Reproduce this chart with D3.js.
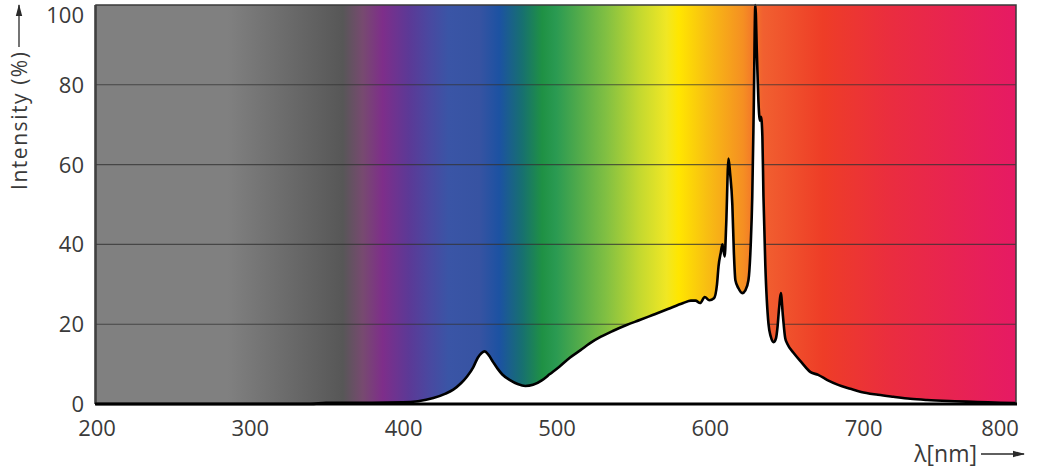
<!DOCTYPE html>
<html>
<head>
<meta charset="utf-8">
<script src="https://cdn.jsdelivr.net/npm/d3@7/dist/d3.min.js"></script>
<style>
  html, body { margin: 0; padding: 0; background: #ffffff; }
  svg { display: block; }
  text { font-family: "Open Sans", "Noto Sans", sans-serif; fill: #3a3a3a; }
</style>
</head>
<body>
<svg id="chart" width="1045" height="469"></svg>
<script>
// ---- data ----
const wavelengths = [200, 300, 340, 350, 380, 400, 410, 420, 428, 433, 438, 442, 446, 449, 451.5, 453.5, 456, 459, 462, 465, 470, 475, 480, 485, 491, 496, 502, 509, 516, 522, 529, 537, 546, 555, 563, 573, 583, 588, 591, 594, 597, 600, 603, 605, 606, 607.5, 608.5, 610, 611, 612.5, 613.5, 615, 616, 617, 619, 621.5, 623.5, 625.5, 627, 628, 629, 630, 631, 632, 633, 633.7, 634.6, 635.3, 636.5, 638.6, 640, 642, 643.5, 644.4, 645.5, 646.6, 648, 649.5, 651, 655, 660, 666, 671, 677, 684, 692, 699, 710, 720, 731, 742, 760, 775, 790, 800];
const intensity   = [0, 0, 0, 0.3, 0.3, 0.4, 0.7, 1.5, 2.6, 3.6, 5.2, 6.9, 9.2, 11.6, 12.8, 13.2, 12.3, 10.5, 8.8, 7.4, 6.0, 5.0, 4.5, 4.8, 6.0, 7.5, 9.3, 11.6, 13.5, 15.2, 16.8, 18.3, 19.8, 21.1, 22.3, 23.8, 25.3, 25.9, 25.9, 25.3, 26.8, 26.0, 26.5, 30, 34.5, 38, 40, 37, 45, 61.5, 58, 50, 38, 31, 29, 27.8, 28.5, 31, 40, 52, 75, 100, 88, 76, 71, 72, 67, 52, 35, 20, 17, 15.5, 16.5, 19, 24, 27.8, 22, 16.5, 15, 12.8, 10.5, 8.0, 7.3, 6, 4.8, 3.8, 3.0, 2.3, 1.8, 1.3, 1.0, 0.7, 0.5, 0.3, 0.2];
const xTicks = [200, 300, 400, 500, 600, 700, 800];
const yTicks = [0, 20, 40, 60, 80, 100];
const gridValues = [20, 40, 60, 80];
const yTitle = "Intensity (%)";
const xTitle = "λ[nm]";

// background spectrum colour stops (wavelength, colour)
const stopWavelengths = [200, 286, 361, 374, 387, 404, 417, 430, 450, 463, 478, 491, 500, 533, 554, 572, 580, 598, 622, 635, 674, 718, 800];
const stopColors = ["#808080", "#808080", "#575757", "#774a70", "#7e2e8a", "#5c3996", "#4a48a0", "#3a55a6", "#3753a2", "#1c52a2", "#177070", "#1f9144", "#2a9a52", "#82c042", "#c2d830", "#f0e724", "#ffe600", "#f8bf12", "#f58f22", "#f16030", "#ee3d27", "#ea2d3f", "#e61a64"];

// ---- layout ----
const svg = d3.select("#chart");
const L = 96, R = 1016, T = 5, B = 404;

const x = d3.scaleLinear().domain([200, 800]).range([L, R]);
const y = d3.scaleLinear().domain([0, 100]).range([B, T]);

const defs = svg.append("defs");
const grad = defs.append("linearGradient")
  .attr("id", "spec")
  .attr("gradientUnits", "userSpaceOnUse")
  .attr("x1", x(200)).attr("x2", x(800)).attr("y1", 0).attr("y2", 0);
grad.selectAll("stop")
  .data(stopWavelengths.map((w, i) => ({ w, c: stopColors[i] })))
  .join("stop")
  .attr("offset", d => (d.w - 200) / 600)
  .attr("stop-color", d => d.c);

defs.append("marker")
  .attr("id", "arrow")
  .attr("viewBox", "0 0 12 8")
  .attr("refX", 11).attr("refY", 4)
  .attr("markerWidth", 12).attr("markerHeight", 8)
  .attr("markerUnits", "userSpaceOnUse")
  .attr("orient", "auto")
  .append("path").attr("d", "M0,0.8 L12,4 L0,7.2 Z").attr("fill", "#2a2a2a");

// background
svg.append("rect")
  .attr("x", x(200)).attr("y", y(100))
  .attr("width", x(800) - x(200)).attr("height", y(0) - y(100))
  .attr("fill", "url(#spec)");

// gridlines
svg.append("g").selectAll("line")
  .data(gridValues).join("line")
  .attr("x1", x(200)).attr("x2", x(800))
  .attr("y1", d => y(d)).attr("y2", d => y(d))
  .attr("stroke", "#333").attr("stroke-opacity", 0.75).attr("stroke-width", 1.1);

// spectrum
const pts = wavelengths.map((w, i) => [w, intensity[i]]);
const area = d3.area().x(d => x(d[0])).y0(y(0)).y1(d => y(d[1])).curve(d3.curveMonotoneX);
const line = d3.line().x(d => x(d[0])).y(d => y(d[1])).curve(d3.curveMonotoneX);

svg.append("path").datum(pts).attr("d", area).attr("fill", "#ffffff");
svg.append("path").datum(pts).attr("d", line)
  .attr("fill", "none").attr("stroke", "#000").attr("stroke-width", 2.6)
  .attr("stroke-linejoin", "round");

// frame
svg.append("rect")
  .attr("x", x(200)).attr("y", y(100))
  .attr("width", x(800) - x(200)).attr("height", y(0) - y(100))
  .attr("fill", "none").attr("stroke", "#3a3a3a").attr("stroke-width", 1.5);
svg.append("line")
  .attr("x1", x(200) - 1).attr("x2", x(200) - 1).attr("y1", y(100)).attr("y2", y(0))
  .attr("stroke", "#333").attr("stroke-width", 1.5);
svg.append("line")
  .attr("x1", x(200) - 1).attr("x2", x(800) + 1).attr("y1", y(0)).attr("y2", y(0))
  .attr("stroke", "#000").attr("stroke-width", 3.2);

// y tick labels
svg.append("g").selectAll("text")
  .data(yTicks).join("text")
  .attr("x", 84)
  .attr("y", d => d === 100 ? 23 : y(d) + 8)
  .attr("text-anchor", "end")
  .attr("font-size", 22)
  .text(d => d);

// x tick labels
svg.append("g").selectAll("text")
  .data(xTicks).join("text")
  .attr("x", d => d === 800 ? x(d) - 16 : x(d) + 1)
  .attr("y", 436)
  .attr("text-anchor", "middle")
  .attr("font-size", 22)
  .text(d => d);

// y axis title with arrow
svg.append("text")
  .attr("transform", "translate(27,190) rotate(-90)")
  .attr("text-anchor", "start")
  .attr("font-size", 21)
  .attr("textLength", 138)
  .attr("lengthAdjust", "spacing")
  .text(yTitle);
svg.append("line")
  .attr("x1", 19).attr("x2", 19).attr("y1", 47).attr("y2", 5)
  .attr("stroke", "#2a2a2a").attr("stroke-width", 1.3)
  .attr("marker-end", "url(#arrow)");

// x axis title with arrow
svg.append("text")
  .attr("x", 977).attr("y", 462)
  .attr("text-anchor", "end")
  .attr("font-size", 23)
  .text(xTitle);
svg.append("line")
  .attr("x1", 981).attr("x2", 1024).attr("y1", 454).attr("y2", 454)
  .attr("stroke", "#2a2a2a").attr("stroke-width", 1.3)
  .attr("marker-end", "url(#arrow)");
</script>
</body>
</html>
